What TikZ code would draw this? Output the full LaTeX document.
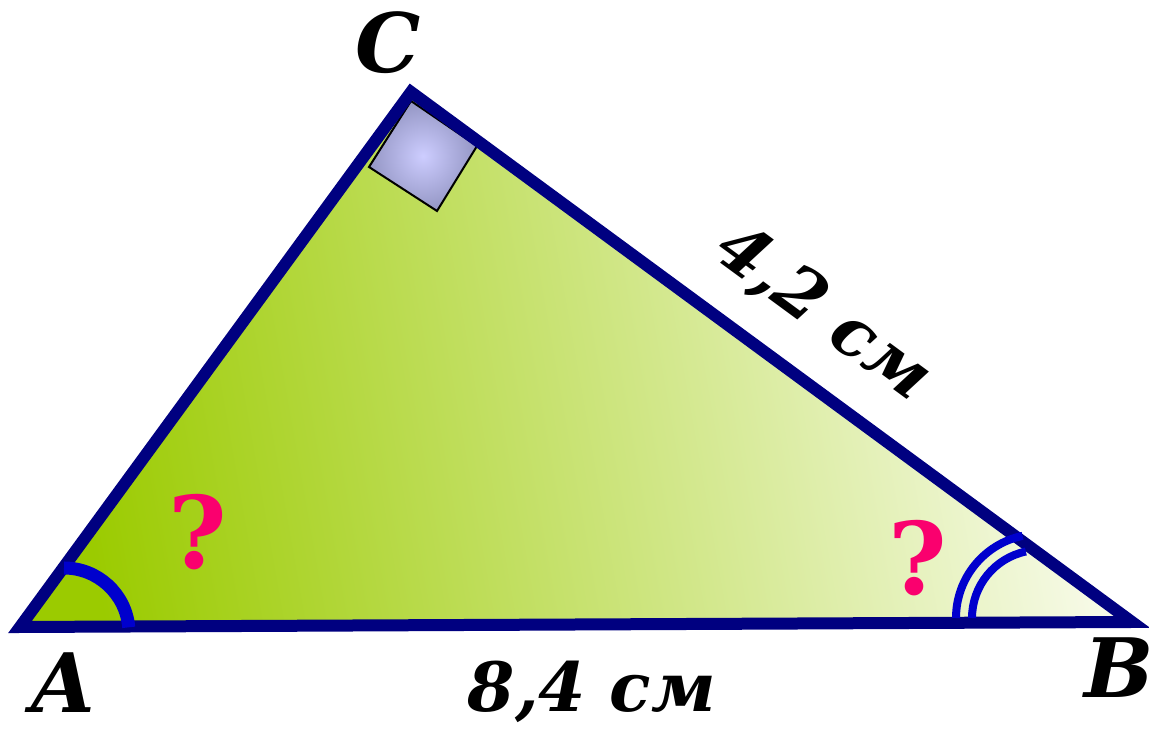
\documentclass[tikz,border=0pt]{standalone}
\usepackage{fontspec}
\setmainfont{DejaVu Serif}
\usetikzlibrary{calc}

\definecolor{navyside}{RGB}{0,0,128}
\definecolor{markblue}{RGB}{0,0,205}
\definecolor{qpink}{RGB}{250,0,110}
\definecolor{leafgreen}{RGB}{155,203,0}
\definecolor{palegreen}{RGB}{250,252,240}
\definecolor{lavlight}{RGB}{205,205,255}
\definecolor{lavdark}{RGB}{148,150,196}

\begin{document}
\begin{tikzpicture}[
  x=0.5pt, y=0.5pt,
  side/.style={draw=navyside, line width=6pt, line join=miter},
  rightmark/.style={draw=black, line width=1pt, inner color=lavlight, outer color=lavdark},
  anglemark/.style={draw=markblue, line width=6.5pt},
  anglemarkthin/.style={draw=markblue, line width=4pt},
  vertex/.style={font=\fontsize{41}{41}\selectfont\bfseries\itshape, inner sep=0pt},
  length/.style={font=\fontsize{34}{34}\selectfont\bfseries\itshape, inner sep=0pt},
  query/.style={text=qpink, font=\fontsize{50}{50}\selectfont\bfseries, inner sep=0pt}
]
  \useasboundingbox (0,0) rectangle (1149,737);

  % vertices
  \coordinate (A) at (20,110);
  \coordinate (B) at (1132,115);
  \coordinate (C) at (411,645);

  % body of the triangle
  \shade[left color=leafgreen, right color=palegreen, shading angle=100]
    (A) -- (B) -- (C) -- cycle;

  % right angle at C
  \shade[rightmark] (411,636) -- (477,591) -- (437,526) -- (369,570) -- cycle;

  \draw[side] (A) -- (B) -- (C) -- cycle;

  % angle marks
  \draw[anglemark] (64,169) arc[start angle=90, end angle=5, radius=65];
  \draw[anglemarkthin] (956,119) arc[start angle=180, end angle=102, radius=84];
  \draw[anglemarkthin] (972,119) arc[start angle=180, end angle=102, radius=68];

  % labels
  \node[vertex] (labC) at (388,694) {C};
  \node[vertex] (labA) at (63,54) {A};
  \node[vertex] (labB) at (1119,69) {B};
  \node[length] (labAB) at (592,45) {8,4 см};
  \node[length, rotate=-36.3] (labCB) at (823,423) {4,2 см};
  \node[query] (qA) at (198,205) {?};
  \node[query] (qB) at (918,179) {?};
\end{tikzpicture}
\end{document}
